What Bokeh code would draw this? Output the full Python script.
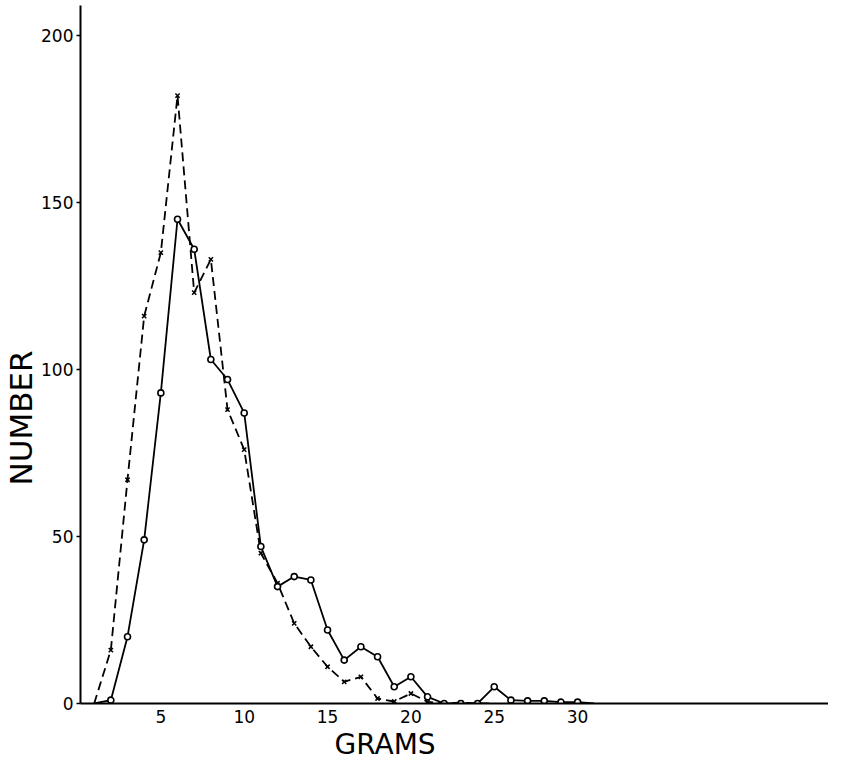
from bokeh.plotting import figure
from bokeh.models import FixedTicker, Range1d, Title
from bokeh.embed import file_html
from bokeh.resources import INLINE

# --- data ---
grams = [1, 2, 3, 4, 5, 6, 7, 8, 9, 10, 11, 12, 13, 14, 15, 16, 17, 18, 19, 20,
         21, 22, 23, 24, 25, 26, 27, 28, 29, 30, 31]
solid_counts = [0, 1, 20, 49, 93, 145, 136, 103, 97, 87, 47, 35, 38, 37, 22, 13, 17, 14, 5, 8,
                2, 0, 0, 0, 5, 1, 0.8, 0.8, 0.4, 0.4, 0]

dash_grams = [1, 2, 3, 4, 5, 6, 7, 8, 9, 10, 11, 12, 13, 14, 15, 16, 17, 18, 19, 20,
              21, 22, 23, 24, 25]
dash_counts = [0, 16, 67, 116, 135, 182, 123, 133, 88, 76, 45, 36, 24, 17, 11, 6.5, 8, 1.5, 0.6, 3,
               0.5, 0, 0.3, 0, 0]

x_ticks = [5, 10, 15, 20, 25, 30]
y_ticks = [0, 50, 100, 150, 200]
x_title = "GRAMS"
y_title = "NUMBER"

FONT = "DejaVu Sans"

p = figure(width=828, height=765, output_backend="svg", toolbar_location=None,
           x_range=Range1d(0.18, 45.05), y_range=Range1d(0, 209),
           min_border_left=80, min_border_right=0, min_border_top=5, min_border_bottom=62)
p.outline_line_color = None
p.xgrid.visible = False
p.ygrid.visible = False
p.background_fill_color = "white"
p.border_fill_color = "white"

# axes
p.xaxis.ticker = FixedTicker(ticks=x_ticks)
p.yaxis.ticker = FixedTicker(ticks=y_ticks)
p.xaxis.minor_tick_line_color = None
p.yaxis.minor_tick_line_color = None
p.xaxis.major_tick_out = 0
p.xaxis.major_tick_in = 0
p.yaxis.major_tick_out = 4
p.yaxis.major_tick_in = 0
for ax in (p.xaxis, p.yaxis):
    ax.axis_line_width = 2
    ax.axis_line_color = "black"
    ax.major_tick_line_width = 1.5
    ax.major_label_text_font = FONT
    ax.major_label_text_font_size = "17px"
    ax.major_label_text_color = "black"
p.xaxis.major_label_standoff = 6
p.yaxis.major_label_standoff = 3

# lines
p.line(dash_grams, dash_counts, line_color="black", line_width=1.8, line_dash="9 5")
p.scatter(dash_grams[1:-1], dash_counts[1:-1], marker="x", size=6, line_color="black", line_width=1.5)

p.line(grams, solid_counts, line_color="black", line_width=1.8)
p.scatter(grams[1:-1], solid_counts[1:-1], marker="circle", size=6, fill_color="white",
          line_color="black", line_width=1.6)

# axis titles as side-panel titles, shifted along the axis
p.add_layout(Title(text=y_title, align="left", offset=218, standoff=0,
                   text_font=FONT, text_font_size="31px", text_font_style="normal",
                   text_color="black"), "left")
p.add_layout(Title(text=x_title, align="left", offset=254, standoff=0,
                   text_font=FONT, text_font_size="28px", text_font_style="normal",
                   text_color="black"), "below")

open("out.html", "w").write(file_html(p, INLINE))
